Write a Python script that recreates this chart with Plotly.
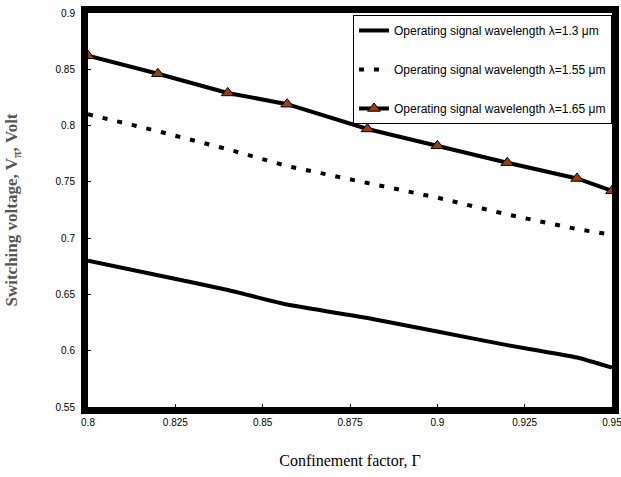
import plotly.graph_objects as go

gamma = [0.8, 0.82, 0.84, 0.857, 0.88, 0.9, 0.92, 0.94, 0.95]
v_13 = [0.680, 0.667, 0.654, 0.641, 0.629, 0.617, 0.605, 0.594, 0.585]
gamma_155 = [0.8, 0.82, 0.84, 0.857, 0.88, 0.9, 0.92, 0.94, 0.948]
v_155 = [0.810, 0.795, 0.779, 0.764, 0.749, 0.736, 0.721, 0.708, 0.704]
v_165 = [0.862, 0.846, 0.829, 0.819, 0.797, 0.782, 0.767, 0.753, 0.742]

names = ["Operating signal wavelength λ=1.3 μm",
         "Operating signal wavelength λ=1.55 μm",
         "Operating signal wavelength λ=1.65 μm"]
x_ticks = [0.8, 0.825, 0.85, 0.875, 0.9, 0.925, 0.95]
y_ticks = [0.55, 0.6, 0.65, 0.7, 0.75, 0.8, 0.85, 0.9]

narrow = "Liberation Sans Narrow, Arial Narrow, Liberation Sans, Arial"
serif = "Liberation Serif, Times New Roman, serif"

fig = go.Figure()
fig.add_trace(go.Scatter(x=gamma, y=v_13, mode="lines", name=names[0], legendgroup="a",
                         line=dict(color="black", width=4, shape="spline", smoothing=0.4)))
fig.add_trace(go.Scatter(x=gamma_155, y=v_155, mode="lines", name=names[1], legendgroup="b",
                         line=dict(color="black", width=4, dash="5px,10px")))
fig.add_trace(go.Scatter(x=gamma, y=v_165, mode="lines+markers", name=names[2], legendgroup="c",
                         line=dict(color="black", width=4),
                         marker=dict(symbol="triangle-up", size=11, color="#9c3c0c",
                                     line=dict(color="black", width=1))))

axis_common = dict(showline=True, linecolor="black", linewidth=7, mirror=True,
                   showgrid=False, zeroline=False, ticks="inside", ticklen=3,
                   tickcolor="black", automargin=False, ticklabeloverflow="allow",
                   tickfont=dict(family=narrow, size=10, color="black"))

fig.update_layout(
    width=621, height=477,
    margin=dict(l=88, r=9, t=13, b=70),
    paper_bgcolor="white", plot_bgcolor="white",
    xaxis=dict(range=[0.8, 0.95], tickvals=x_ticks,
               ticktext=[str(v) for v in x_ticks],
               title=dict(text="Confinement factor, Γ",
                          font=dict(family=serif, size=16, color="black"), standoff=30),
               **axis_common),
    yaxis=dict(range=[0.55, 0.9], tickvals=y_ticks,
               ticktext=[str(v) for v in y_ticks],
               ticklabelstandoff=4,
               title=dict(text="<b>Switching voltage, V<sub>π</sub>, Volt</b>",
                          font=dict(family=serif, size=17, color="#555555"), standoff=36),
               **axis_common),
    legend=dict(x=1, xanchor="right", y=0.995, yanchor="top",
                bgcolor="white", bordercolor="black", borderwidth=1,
                font=dict(family=narrow, size=12, color="black"),
                traceorder="grouped", tracegroupgap=20),
    showlegend=True,
)

fig.write_html("out.html")
